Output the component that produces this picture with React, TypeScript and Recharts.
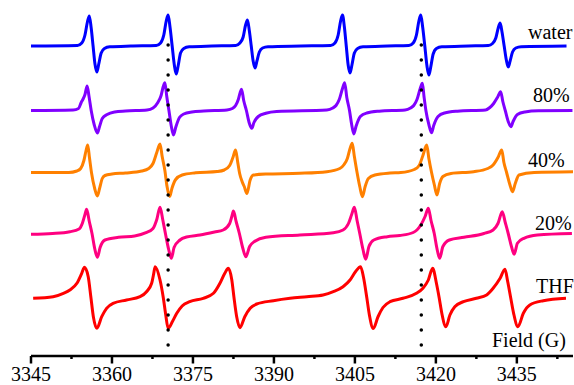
import React from 'react';
import { LineChart, Line, XAxis, YAxis, ReferenceLine, Customized } from 'recharts';

// Field axis (G)
const majorTicks = [3345, 3360, 3375, 3390, 3405, 3420, 3435];
const minorTicks = [3352.5, 3367.5, 3382.5, 3397.5, 3412.5, 3427.5, 3442.5];
const fieldDomain: [number, number] = [3345, 3445.4];

// Vertical dotted guide lines (G)
const markerFields = [3370.4, 3417.3];

// Series: [field (G), derivative intensity (a.u.)]
const water: [number, number][] = [
  [3344.8, 0],
  [3353.6, 0.5], [3354.4, 3], [3355.0, 11], [3355.45, 24], [3355.8, 30], [3356.15, 18], [3356.5, 0], [3356.85, -18], [3357.2, -26], [3357.55, -18], [3358.0, -7], [3358.6, -2.5], [3359.6, -0.8], [3363.5, 0],
  [3368.2, 0.5], [3369.0, 3], [3369.6, 11], [3370.05, 25], [3370.4, 31], [3370.75, 19], [3371.15, 0], [3371.55, -19], [3371.9, -28], [3372.25, -20], [3372.7, -7], [3373.3, -2.5], [3374.3, -0.8], [3378.5, 0],
  [3382.9, 0.5], [3383.7, 3], [3384.3, 9], [3384.75, 21], [3385.1, 26], [3385.45, 15], [3385.8, 0], [3386.15, -15], [3386.5, -22], [3386.85, -15], [3387.3, -6], [3387.9, -2], [3388.9, -0.7], [3395.0, 0],
  [3400.5, 0.5], [3401.3, 3], [3401.9, 11], [3402.35, 25], [3402.7, 31], [3403.05, 19], [3403.4, 0], [3403.75, -19], [3404.1, -27], [3404.45, -19], [3404.9, -7], [3405.5, -2.5], [3406.5, -0.8], [3411.0, 0],
  [3415.0, 0.5], [3415.8, 3], [3416.4, 11], [3416.85, 25], [3417.2, 31], [3417.55, 19], [3417.95, 0], [3418.35, -20], [3418.7, -29], [3419.05, -21], [3419.5, -8], [3420.1, -2.5], [3421.1, -0.8], [3426.0, 0],
  [3429.7, 0.5], [3430.5, 2.5], [3431.1, 8], [3431.55, 18], [3431.9, 23], [3432.25, 14], [3432.65, 0], [3433.05, -14], [3433.4, -21], [3433.75, -15], [3434.2, -6], [3434.8, -2], [3435.8, -0.7], [3444.2, 0],
];

const p80: [number, number][] = [
  [3344.7, 0],
  [3352.8, 0.5], [3353.8, 2], [3354.3, 8], [3354.6, 11], [3355.0, 16], [3355.4, 24.5], [3355.75, 14], [3356.15, 0], [3356.7, -14], [3357.3, -22.5], [3357.7, -16], [3358.2, -8], [3359.1, -4], [3360.5, -1.5], [3362.5, -0.5],
  [3366.5, 0.5], [3367.6, 2.5], [3368.5, 8], [3369.1, 15], [3369.5, 24], [3369.8, 27.8], [3370.15, 14], [3370.55, 0], [3371.0, -16], [3371.4, -24.5], [3371.8, -17], [3372.5, -7], [3373.3, -3.5], [3374.8, -1.5], [3377.0, -0.5],
  [3381.3, 0.5], [3382.3, 2], [3382.9, 5], [3383.4, 11], [3383.75, 18], [3384.0, 21.2], [3384.4, 10], [3384.9, 0], [3385.4, -12], [3385.9, -17.8], [3386.3, -12], [3387.1, -6], [3388.5, -2.8], [3390.5, -1],
  [3399.8, 0.5], [3400.9, 2.5], [3401.5, 5], [3402.1, 11], [3402.7, 22], [3403.1, 27.8], [3403.5, 13], [3404.0, 0], [3404.4, -14], [3404.8, -23.5], [3405.2, -16], [3406.0, -6], [3407.2, -2.5], [3409.5, -0.7],
  [3414.3, 0.5], [3415.3, 2.5], [3415.9, 5], [3416.5, 11], [3417.1, 22], [3417.5, 27.2], [3417.8, 14], [3418.15, 0], [3418.7, -14], [3419.2, -22.2], [3419.6, -15], [3420.4, -6], [3421.6, -2.5], [3424.0, -0.7],
  [3429.2, 0.5], [3430.0, 3], [3430.7, 7], [3431.4, 13], [3432.0, 18.8], [3432.4, 9], [3432.85, 0], [3433.4, -11], [3433.9, -16.2], [3434.3, -11], [3435.1, -4], [3436.5, -1.5], [3439.0, -0.3], [3445.3, 0],
];

const p40: [number, number][] = [
  [3344.6, 0],
  [3352.0, 0], [3353.5, 1.5], [3354.2, 4], [3354.8, 12], [3355.2, 22], [3355.5, 27.5], [3355.85, 14], [3356.2, 0], [3356.8, -16], [3357.3, -23.5], [3357.7, -16], [3358.2, -6], [3358.7, -3], [3360.0, -1.5], [3362.5, -0.5],
  [3365.5, 1.5], [3366.8, 4], [3367.6, 9], [3368.3, 20], [3368.9, 28.5], [3369.3, 16], [3369.8, 2], [3370.2, -14], [3370.7, -24], [3371.1, -16], [3371.8, -7], [3373.0, -2.5], [3375.5, -0.3],
  [3379.5, 1], [3380.8, 2.5], [3381.8, 7], [3382.4, 15], [3382.9, 22.5], [3383.3, 10], [3383.65, -1], [3384.1, -9], [3384.5, -14], [3385.0, -21], [3385.6, -7.5], [3386.2, -2.5], [3388.5, -1.5], [3394.8, -0.8], [3399.8, 0.8],
  [3402.2, 4], [3403.0, 8], [3403.6, 14], [3404.1, 24], [3404.5, 29.2], [3404.9, 16], [3405.4, 0], [3405.9, -14], [3406.4, -24.2], [3406.9, -14], [3407.5, -6], [3408.7, -2.5], [3411.5, -0.5], [3413.5, 0],
  [3416.0, 3], [3416.9, 7], [3417.6, 17], [3418.3, 27.5], [3418.7, 14], [3419.2, 0], [3419.7, -12], [3420.2, -22.5], [3420.7, -11], [3421.3, -4], [3422.8, -1], [3427.0, 0.8],
  [3429.6, 4], [3430.6, 7.5], [3431.5, 15], [3432.2, 22.5], [3432.6, 10], [3433.1, 0], [3433.7, -12], [3434.2, -19.2], [3434.7, -11], [3435.4, -2.5], [3438.2, 0], [3445.4, 0.8],
];

const p20: [number, number][] = [
  [3344.8, -0.8],
  [3349.0, 0], [3352.2, 1.8], [3353.9, 4.5], [3354.5, 10], [3355.0, 19], [3355.3, 24.2], [3355.8, 12], [3356.3, 0], [3356.8, -15], [3357.3, -23.8], [3357.8, -14], [3358.7, -6.5], [3361.2, -3.8], [3364.2, -2.5], [3366.3, 0.8],
  [3367.6, 5], [3368.3, 14], [3368.9, 26.2], [3369.4, 14], [3369.9, 0], [3370.5, -16], [3371.0, -24.8], [3371.5, -14], [3372.6, -6.5], [3373.8, -3.5], [3376.3, -1.5], [3379.0, 1.5],
  [3380.6, 3.5], [3381.8, 10], [3382.2, 17], [3382.5, 22.5], [3383.0, 12], [3383.6, 0], [3384.2, -14], [3384.8, -23.2], [3385.5, -13], [3386.4, -8], [3388.5, -3.8], [3394.8, -1.5], [3401.0, 0.8],
  [3402.8, 3.5], [3403.8, 10], [3404.4, 19], [3404.9, 26.2], [3405.4, 13], [3405.9, 0], [3406.5, -16], [3407.0, -25.8], [3407.6, -13], [3408.5, -6.5], [3411.0, -3.2], [3413.3, -2],
  [3415.8, 1], [3417.2, 8.5], [3418.0, 17], [3418.6, 25.2], [3419.1, 13], [3419.7, 0], [3420.2, -15], [3420.7, -24.8], [3421.3, -13], [3422.5, -6.5], [3425.2, -3.8], [3428.9, 0],
  [3430.6, 3.5], [3431.5, 10], [3432.3, 21.8], [3432.85, 11], [3433.4, 0], [3434.0, -13], [3434.5, -20.8], [3435.1, -9.8], [3436.3, -4.8], [3438.8, -1.5], [3445.2, 0],
];

const thf: [number, number][] = [
  [3345.4, -0.8],
  [3349.1, 0.8], [3351.0, 4.2], [3352.2, 7.5], [3353.5, 14.2], [3354.4, 24.2], [3354.9, 30.2], [3355.6, 20.8], [3356.1, 0], [3356.55, -19.2], [3357.2, -30.8], [3358.1, -19.2], [3359.0, -10.8], [3360.2, -5.8], [3362.7, -2.5], [3365.2, 0.8],
  [3366.4, 5.8], [3367.35, 14.2], [3367.7, 23], [3368.0, 30.8], [3368.9, 17.5], [3369.5, 0], [3369.95, -17], [3370.4, -30.8], [3371.2, -24], [3372.0, -15.8], [3373.0, -8.5], [3374.4, -4.2], [3376.9, -0.8],
  [3378.8, 4.2], [3380.0, 14.2], [3380.9, 24.2], [3381.55, 29.2], [3382.2, 17.5], [3382.6, 0], [3383.1, -19.2], [3383.7, -30.2], [3384.6, -19.2], [3385.6, -10.8], [3386.8, -6.5], [3389.9, -3.2], [3393.0, -0.8], [3396.1, 0.8], [3399.1, 2.5],
  [3401.0, 5.8], [3402.8, 10.8], [3404.1, 17.5], [3405.1, 25.8], [3406.05, 30.8], [3406.6, 20], [3407.2, 0], [3407.7, -18], [3408.4, -31], [3409.3, -19], [3410.2, -10], [3411.5, -4.2], [3413.9, -0.8],
  [3416.4, 4.2], [3417.6, 9.2], [3418.6, 17.5], [3419.4, 29.2], [3420.1, 14.2], [3420.6, 0], [3421.1, -15.8], [3421.85, -29.2], [3422.6, -17.5], [3423.5, -9.2], [3425.1, -4.2], [3427.5, -0.8],
  [3429.4, 2.5], [3430.6, 9.2], [3431.9, 19.2], [3432.8, 28.2], [3433.3, 16], [3433.85, 0], [3434.4, -15.8], [3435.2, -29.2], [3436.2, -15.8], [3437.4, -7.5], [3439.9, -3.2], [3444.1, -0.8],
];

const seriesNames = ['water', '80%', '40%', '20%', 'THF'];
const seriesColors = ['#0000ff', '#8000ff', '#ff8000', '#ff0080', '#ff0000'];
const seriesOffsets = [310, 245.5, 183.5, 122.5, 58.5];
const seriesData = [water, p80, p40, p20, thf];

const labelPos = [
  { x: 528, y: 39 },
  { x: 533, y: 102 },
  { x: 528, y: 167 },
  { x: 535, y: 230 },
  { x: 536, y: 293 },
];

const toRows = (pts: [number, number][], off: number) =>
  pts.map(([x, v]) => ({ x, y: v + off }));

const FONT = '"Liberation Serif", "Times New Roman", serif';

const AxisTick = (props: any) => {
  const { x, y, payload } = props;
  const v = payload.value as number;
  const major = majorTicks.includes(v);
  return (
    <g>
      <line x1={x} x2={x} y1={y} y2={y + (major ? 7.5 : 3)} stroke="#000" strokeWidth={2.5} />
      {major && (
        <text x={x} y={y + 25} textAnchor="middle" fontFamily={FONT} fontSize={20} fill="#000">
          {v}
        </text>
      )}
    </g>
  );
};

const Labels = () => (
  <g>
    {seriesNames.map((n, i) => (
      <text key={n} x={labelPos[i].x} y={labelPos[i].y} fontFamily={FONT} fontSize={20} fill="#000">
        {n}
      </text>
    ))}
    <text x={492} y={347} fontFamily={FONT} fontSize={20} fill="#000">Field (G)</text>
  </g>
);

export default function App() {
  return (
    <div style={{ position: 'absolute', left: 0, top: 0, width: 574, height: 385, background: '#fff' }}>
      <LineChart width={574} height={385} margin={{ top: 0, right: 1, bottom: 0, left: 31 }}>
        <XAxis
          type="number"
          dataKey="x"
          domain={fieldDomain}
          allowDataOverflow
          ticks={[...majorTicks, ...minorTicks].sort((a, b) => a - b)}
          interval={0}
          height={29}
          tickSize={0}
          tickMargin={0}
          tickLine={false}
          axisLine={{ stroke: '#000', strokeWidth: 2.5 }}
          tick={<AxisTick />}
        />
        <YAxis type="number" domain={[0, 356]} hide allowDataOverflow />
        {seriesData.map((pts, i) => (
          <Line
            key={seriesNames[i]}
            data={toRows(pts, seriesOffsets[i])}
            dataKey="y"
            type="monotone"
            stroke={seriesColors[i]}
            strokeWidth={3}
            dot={false}
            activeDot={false}
            isAnimationActive={false}
          />
        ))}
        {markerFields.map((f) => (
          <ReferenceLine
            key={f}
            segment={[{ x: f, y: 11 }, { x: f, y: 326 }]}
            stroke="#000"
            strokeWidth={3.5}
            strokeDasharray="0 15"
            strokeLinecap="round"
            ifOverflow="visible"
          />
        ))}
        <Customized component={Labels} />
      </LineChart>
    </div>
  );
}
